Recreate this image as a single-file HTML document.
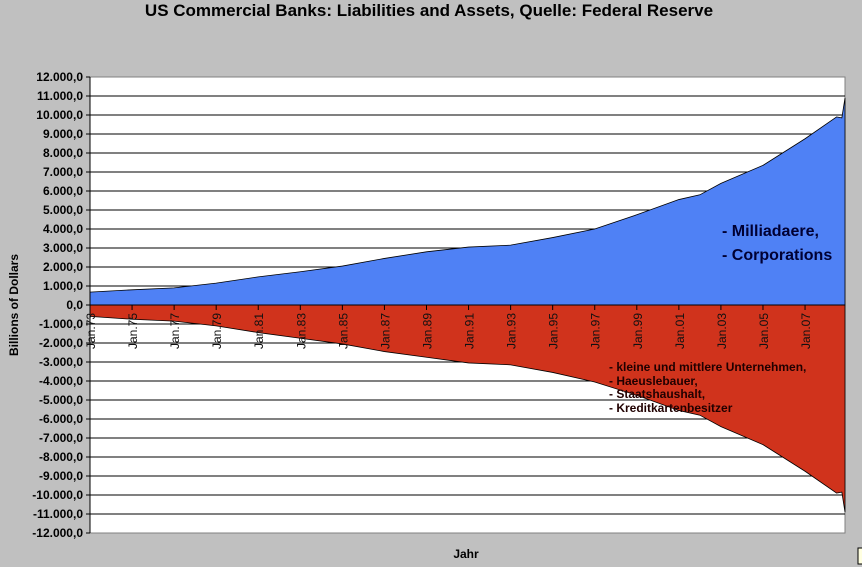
<!DOCTYPE html>
<html><head><meta charset="utf-8"><style>
body{margin:0;background:#c0c0c0;}
svg{display:block;font-family:"Liberation Sans",Arial,sans-serif;}
</style></head><body>
<svg id="chart" width="862" height="567">
<rect width="862" height="567" fill="#c0c0c0"/>
<text x="429" y="16" text-anchor="middle" font-size="17" font-weight="bold">US Commercial Banks: Liabilities and Assets, Quelle: Federal Reserve</text>
<rect x="90" y="77" width="755" height="456" fill="#fff" stroke="#808080"/>
<g id="grid"></g>
<g id="areas"></g>
<g id="xticks"></g>
<g id="yticks"></g>
<text transform="translate(18,305) rotate(-90)" text-anchor="middle" font-size="12" font-weight="bold">Billions of Dollars</text>
<text x="466" y="558" text-anchor="middle" font-size="12" font-weight="bold">Jahr</text>
<text x="722" y="236" font-size="16" font-weight="bold" fill="#000033">- Milliadaere,</text>
<text x="722" y="260" font-size="16" font-weight="bold" fill="#000033">- Corporations</text>
<g font-size="12" font-weight="bold" fill="#200000">
<text x="609" y="371">- kleine und mittlere Unternehmen,</text>
<text x="609" y="385">- Haeuslebauer,</text>
<text x="609" y="398">- Staatshaushalt,</text>
<text x="609" y="412">- Kreditkartenbesitzer</text>
</g>
<rect x="858" y="548" width="8" height="16" fill="#ffffe0" stroke="#000"/>
</svg>
<script>
const years=[1973,1975,1977,1979,1981,1983,1985,1987,1989,1991,1993,1995,1997,1999,2001,2002,2003,2005,2007,2008.5,2008.75,2008.9];
const assets=[680,800,900,1150,1480,1750,2050,2450,2800,3050,3150,3550,4000,4750,5550,5800,6400,7350,8750,9900,9850,10900];
const liabilities=[-600,-750,-850,-1100,-1450,-1750,-2050,-2450,-2750,-3050,-3150,-3550,-4050,-4750,-5550,-5800,-6400,-7350,-8750,-9900,-9850,-10900];
const yTicks=[12000,11000,10000,9000,8000,7000,6000,5000,4000,3000,2000,1000,0,-1000,-2000,-3000,-4000,-5000,-6000,-7000,-8000,-9000,-10000,-11000,-12000];
const xLabels=["Jan.73","Jan.75","Jan.77","Jan.79","Jan.81","Jan.83","Jan.85","Jan.87","Jan.89","Jan.91","Jan.93","Jan.95","Jan.97","Jan.99","Jan.01","Jan.03","Jan.05","Jan.07"];
const X0=90,X1=845,Y0=77,Y1=533;
const xs=v=>X0+(v-1973)/(2008.9-1973)*(X1-X0);
const ys=v=>Y0+(12000-v)/24000*(Y1-Y0);
const NS="http://www.w3.org/2000/svg";
function mk(t,a,p){const e=document.createElementNS(NS,t);for(const k in a)e.setAttribute(k,a[k]);p.appendChild(e);return e;}
const grid=document.getElementById('grid'),yt=document.getElementById('yticks'),xt=document.getElementById('xticks'),ar=document.getElementById('areas');
yTicks.forEach(v=>{
 const y=ys(v);
 if(v!==12000&&v!==-12000){const l=mk('line',{x1:X0,x2:X1,y1:y,y2:y,stroke:'#000','stroke-width':1},grid);
 
 }
 mk('line',{x1:X0-4,x2:X0,y1:y,y2:y,stroke:'#000'},yt);
 const t=mk('text',{x:X0-7,y:y+4,'text-anchor':'end','font-size':12,'font-weight':'bold'},yt);
 t.textContent=(v<0?'-':'')+Math.abs(v).toLocaleString('de-DE')+',0';
 
 
});
function area(vals,fill,name){
 let d='M'+xs(years[0])+','+ys(0);
 years.forEach((yr,i)=>{d+=' L'+xs(yr)+','+ys(vals[i]);});
 d+=' L'+xs(years[years.length-1])+','+ys(0)+' Z';
 const p=mk('path',{d:d,fill:fill,stroke:'#000','stroke-width':0.8},ar);
 
 
}
area(assets,'#4f81f5','assets-area');
area(liabilities,'#d0331c','liabilities-area');
mk('line',{x1:X0,x2:X1,y1:ys(0),y2:ys(0),stroke:'#000','stroke-width':1},ar);
mk('line',{x1:X0,x2:X0,y1:Y0,y2:Y1,stroke:'#000','stroke-width':1},ar);
xLabels.forEach(s=>{
 const yy=1900+parseInt(s.slice(4));const yr=yy<1950?yy+100:yy;
 const x=xs(yr);
 mk('line',{x1:x,x2:x,y1:ys(0),y2:ys(0)+5,stroke:'#000'},xt);
 const t=mk('text',{transform:`translate(${x+5},${ys(0)+8}) rotate(-90)`,'text-anchor':'end','font-size':12,fill:'#111'},xt);
 t.textContent=s;
 
 
});
</script>
</body></html>
